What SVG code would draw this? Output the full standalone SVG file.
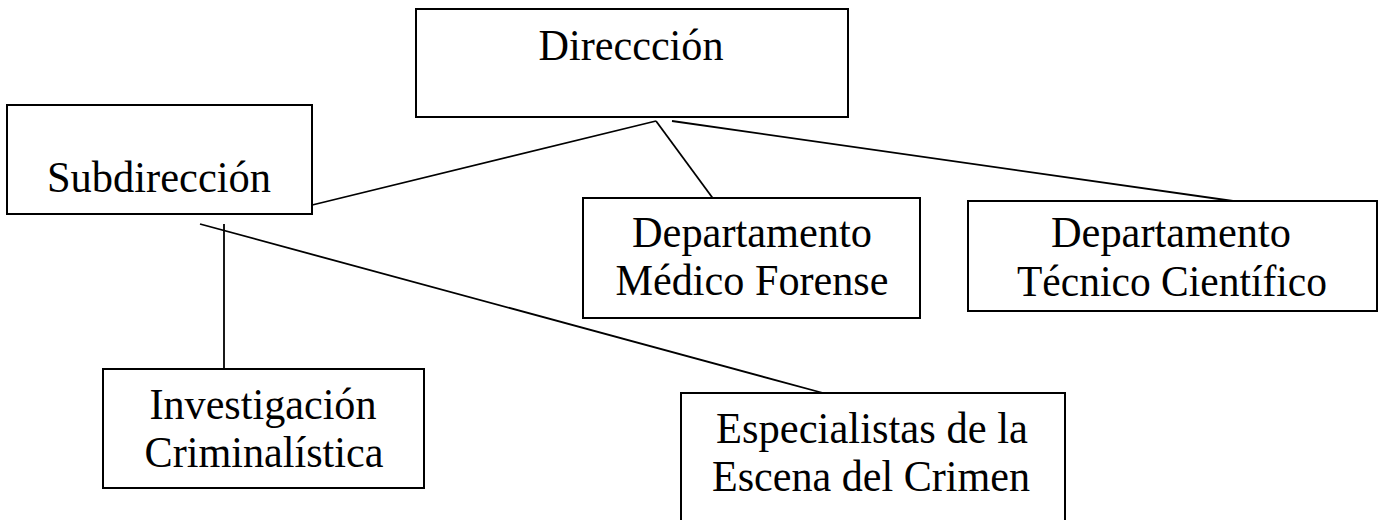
<svg xmlns="http://www.w3.org/2000/svg" width="1381" height="520" viewBox="0 0 1381 520">
<style>
.box{fill:#fff;stroke:#000;stroke-width:2}
.lbl{font-family:"Liberation Serif","Times New Roman",serif;font-size:45px;fill:#000;text-anchor:middle}
.conn line{stroke:#000;stroke-width:1.8}
</style>
<rect width="1381" height="520" fill="#fff"/>
<g id="connectors" class="conn">
<line x1="304" y1="207" x2="656" y2="121"/>
<line x1="656" y1="121" x2="720" y2="208"/>
<line x1="672" y1="121" x2="1233" y2="201"/>
<line x1="224" y1="224" x2="224" y2="369"/>
<line x1="200" y1="224" x2="823" y2="393"/>
</g>
<g id="direccion">
<rect class="box" x="416" y="9" width="432" height="108"/>
<text class="lbl" x="631" y="60" textLength="185" lengthAdjust="spacingAndGlyphs">Direccción</text>
</g>
<g id="subdireccion">
<rect class="box" x="7" y="105" width="305" height="109"/>
<text class="lbl" x="159" y="192" textLength="224" lengthAdjust="spacingAndGlyphs">Subdirección</text>
</g>
<g id="medico">
<rect class="box" x="583" y="198" width="337" height="120"/>
<text class="lbl" x="752" y="247" textLength="240" lengthAdjust="spacingAndGlyphs">Departamento</text>
<text class="lbl" x="752" y="295" textLength="273" lengthAdjust="spacingAndGlyphs">Médico Forense</text>
</g>
<g id="tecnico">
<rect class="box" x="968" y="201" width="409" height="110"/>
<text class="lbl" x="1171" y="247" textLength="240" lengthAdjust="spacingAndGlyphs">Departamento</text>
<text class="lbl" x="1172" y="296" textLength="310" lengthAdjust="spacingAndGlyphs">Técnico Científico</text>
</g>
<g id="investigacion">
<rect class="box" x="103" y="369" width="321" height="119"/>
<text class="lbl" x="263" y="419" textLength="227" lengthAdjust="spacingAndGlyphs">Investigación</text>
<text class="lbl" x="264" y="467" textLength="239" lengthAdjust="spacingAndGlyphs">Criminalística</text>
</g>
<g id="especialistas">
<rect class="box" x="681" y="393" width="384" height="140"/>
<text class="lbl" x="872" y="443" textLength="312" lengthAdjust="spacingAndGlyphs">Especialistas de la</text>
<text class="lbl" x="871" y="491" textLength="318" lengthAdjust="spacingAndGlyphs">Escena del Crimen</text>
</g>
</svg>
